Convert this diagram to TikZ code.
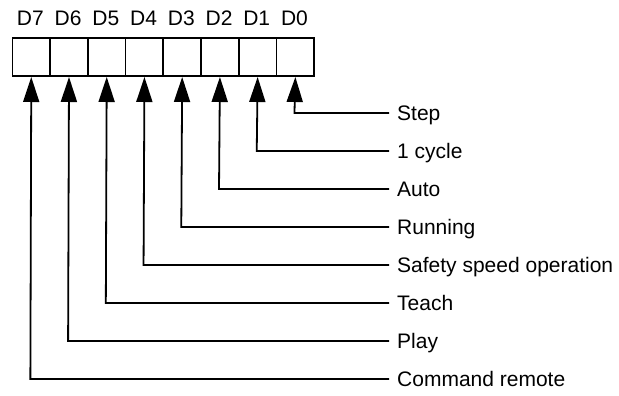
\documentclass[tikz,border=0pt]{standalone}
\usepackage{fontspec}
\setmainfont{Liberation Sans}
\usetikzlibrary{arrows.meta}
\begin{document}
\begin{tikzpicture}[x=1pt,y=-1pt,
  lbl/.style={font=\fontsize{21}{25}\selectfont, inner sep=0pt},
  cell/.style={draw, line width=1.8pt, minimum width=37.73pt, minimum height=37.7pt, inner sep=0pt, anchor=north west},
  conn/.style={line width=1.8pt, -{Triangle[length=25pt,width=16pt]}}
]
\useasboundingbox (0,0) rectangle (619,396);
\foreach \i/\b in {0/7,1/6,2/5,3/4,4/3,5/2,6/1,7/0}{
  \node[cell] (c\b) at ({11.5+37.73*\i},37.5) {};
  \node[lbl, anchor=base] (d\b) at ({11.5+37.73*(\i+0.5)},26) {D\b};
}
\foreach \b/\t in {0/Step,1/1 cycle,2/Auto,3/Running,4/Safety speed operation,5/Teach,6/Play,7/Command remote}{
  \coordinate (e\b) at (389,{113+38*\b});
  \coordinate (k\b) at ({11.5+37.73*(7-\b+0.5)},{113+38*\b});
  \node[lbl, anchor=base west] (t\b) at (397,{113+38*\b+7.5}) {\t};
  \draw[conn] (e\b) -- (k\b) -- (c\b.south);
}
\end{tikzpicture}
\end{document}
